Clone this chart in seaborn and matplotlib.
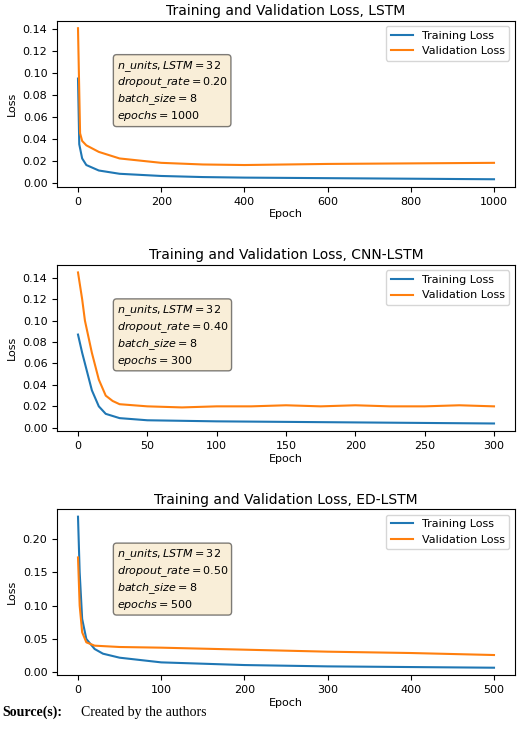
import matplotlib
matplotlib.use("Agg")
import matplotlib.pyplot as plt
import seaborn as sns

# --- DATA ---
lstm_epoch_tr = [0, 3, 10, 20, 50, 100, 200, 300, 400, 600, 800, 1000]
lstm_train = [0.095, 0.035, 0.022, 0.016, 0.011, 0.008, 0.006, 0.005, 0.0045, 0.004, 0.0035, 0.003]
lstm_epoch_va = [0, 5, 10, 20, 50, 100, 200, 300, 400, 500, 600, 800, 1000]
lstm_val = [0.141, 0.045, 0.038, 0.034, 0.028, 0.022, 0.018, 0.0165, 0.016, 0.0165, 0.017, 0.0175, 0.018]

cnn_epoch_tr = [0, 3, 5, 10, 15, 20, 30, 50, 100, 200, 300]
cnn_train = [0.087, 0.07, 0.06, 0.035, 0.02, 0.013, 0.009, 0.007, 0.006, 0.005, 0.004]
cnn_epoch_va = [0, 3, 5, 10, 15, 20, 25, 30, 50, 75, 100, 125, 150, 175, 200, 225, 250, 275, 300]
cnn_val = [0.145, 0.12, 0.10, 0.07, 0.045, 0.03, 0.025, 0.022, 0.020, 0.019, 0.020, 0.020,
           0.021, 0.020, 0.021, 0.020, 0.020, 0.021, 0.020]

ed_epoch_tr = [0, 2, 5, 10, 20, 30, 50, 100, 200, 300, 400, 500]
ed_train = [0.233, 0.15, 0.08, 0.05, 0.035, 0.028, 0.022, 0.015, 0.011, 0.009, 0.008, 0.007]
ed_epoch_va = [0, 2, 5, 10, 20, 50, 100, 200, 300, 400, 500]
ed_val = [0.172, 0.10, 0.06, 0.045, 0.040, 0.038, 0.037, 0.034, 0.031, 0.029, 0.026]

panels = [
    ("LSTM", lstm_epoch_tr, lstm_train, lstm_epoch_va, lstm_val,
     "0.20", "1000", [0, 200, 400, 600, 800, 1000], [0, 0.02, 0.04, 0.06, 0.08, 0.10, 0.12, 0.14]),
    ("CNN-LSTM", cnn_epoch_tr, cnn_train, cnn_epoch_va, cnn_val,
     "0.40", "300", [0, 50, 100, 150, 200, 250, 300], [0, 0.02, 0.04, 0.06, 0.08, 0.10, 0.12, 0.14]),
    ("ED-LSTM", ed_epoch_tr, ed_train, ed_epoch_va, ed_val,
     "0.50", "500", [0, 100, 200, 300, 400, 500], [0, 0.05, 0.10, 0.15, 0.20]),
]

fig, axes = plt.subplots(3, 1, figsize=(5.2, 7.38), dpi=100)
fig.subplots_adjust(left=0.11, right=0.99, top=0.972, bottom=0.085, hspace=0.47)

for ax, (name, xt, yt, xv, yv, drop, ep, xticks, yticks) in zip(axes, panels):
    sns.lineplot(x=xt, y=yt, ax=ax, color="#1f77b4", label="Training Loss", linewidth=1.5)
    sns.lineplot(x=xv, y=yv, ax=ax, color="#ff7f0e", label="Validation Loss", linewidth=1.5)
    ax.set_title(f"Training and Validation Loss, {name}", fontsize=10, pad=4)
    ax.set_xlabel("Epoch", fontsize=8, labelpad=2)
    ax.set_ylabel("Loss", fontsize=8)
    ax.set_xticks(xticks)
    ax.set_yticks(yticks)
    ax.tick_params(labelsize=8)
    ax.legend(loc="upper right", fontsize=8)
    txt = ("$n\\_units, LSTM = 32$\n"
           f"$dropout\\_rate = {drop}$\n"
           "$batch\\_size = 8$\n"
           f"$epochs = {ep}$")
    ax.text(0.13, 0.77, txt, transform=ax.transAxes, fontsize=8, va="top",
            bbox=dict(boxstyle="round", facecolor="wheat", alpha=0.5))

fig.text(0.005, 0.03, "Source(s):", fontsize=10, fontweight="bold", family="Liberation Serif")
fig.text(0.155, 0.03, "Created by the authors", fontsize=10, family="Liberation Serif")

fig.savefig("out.png", dpi=100)
